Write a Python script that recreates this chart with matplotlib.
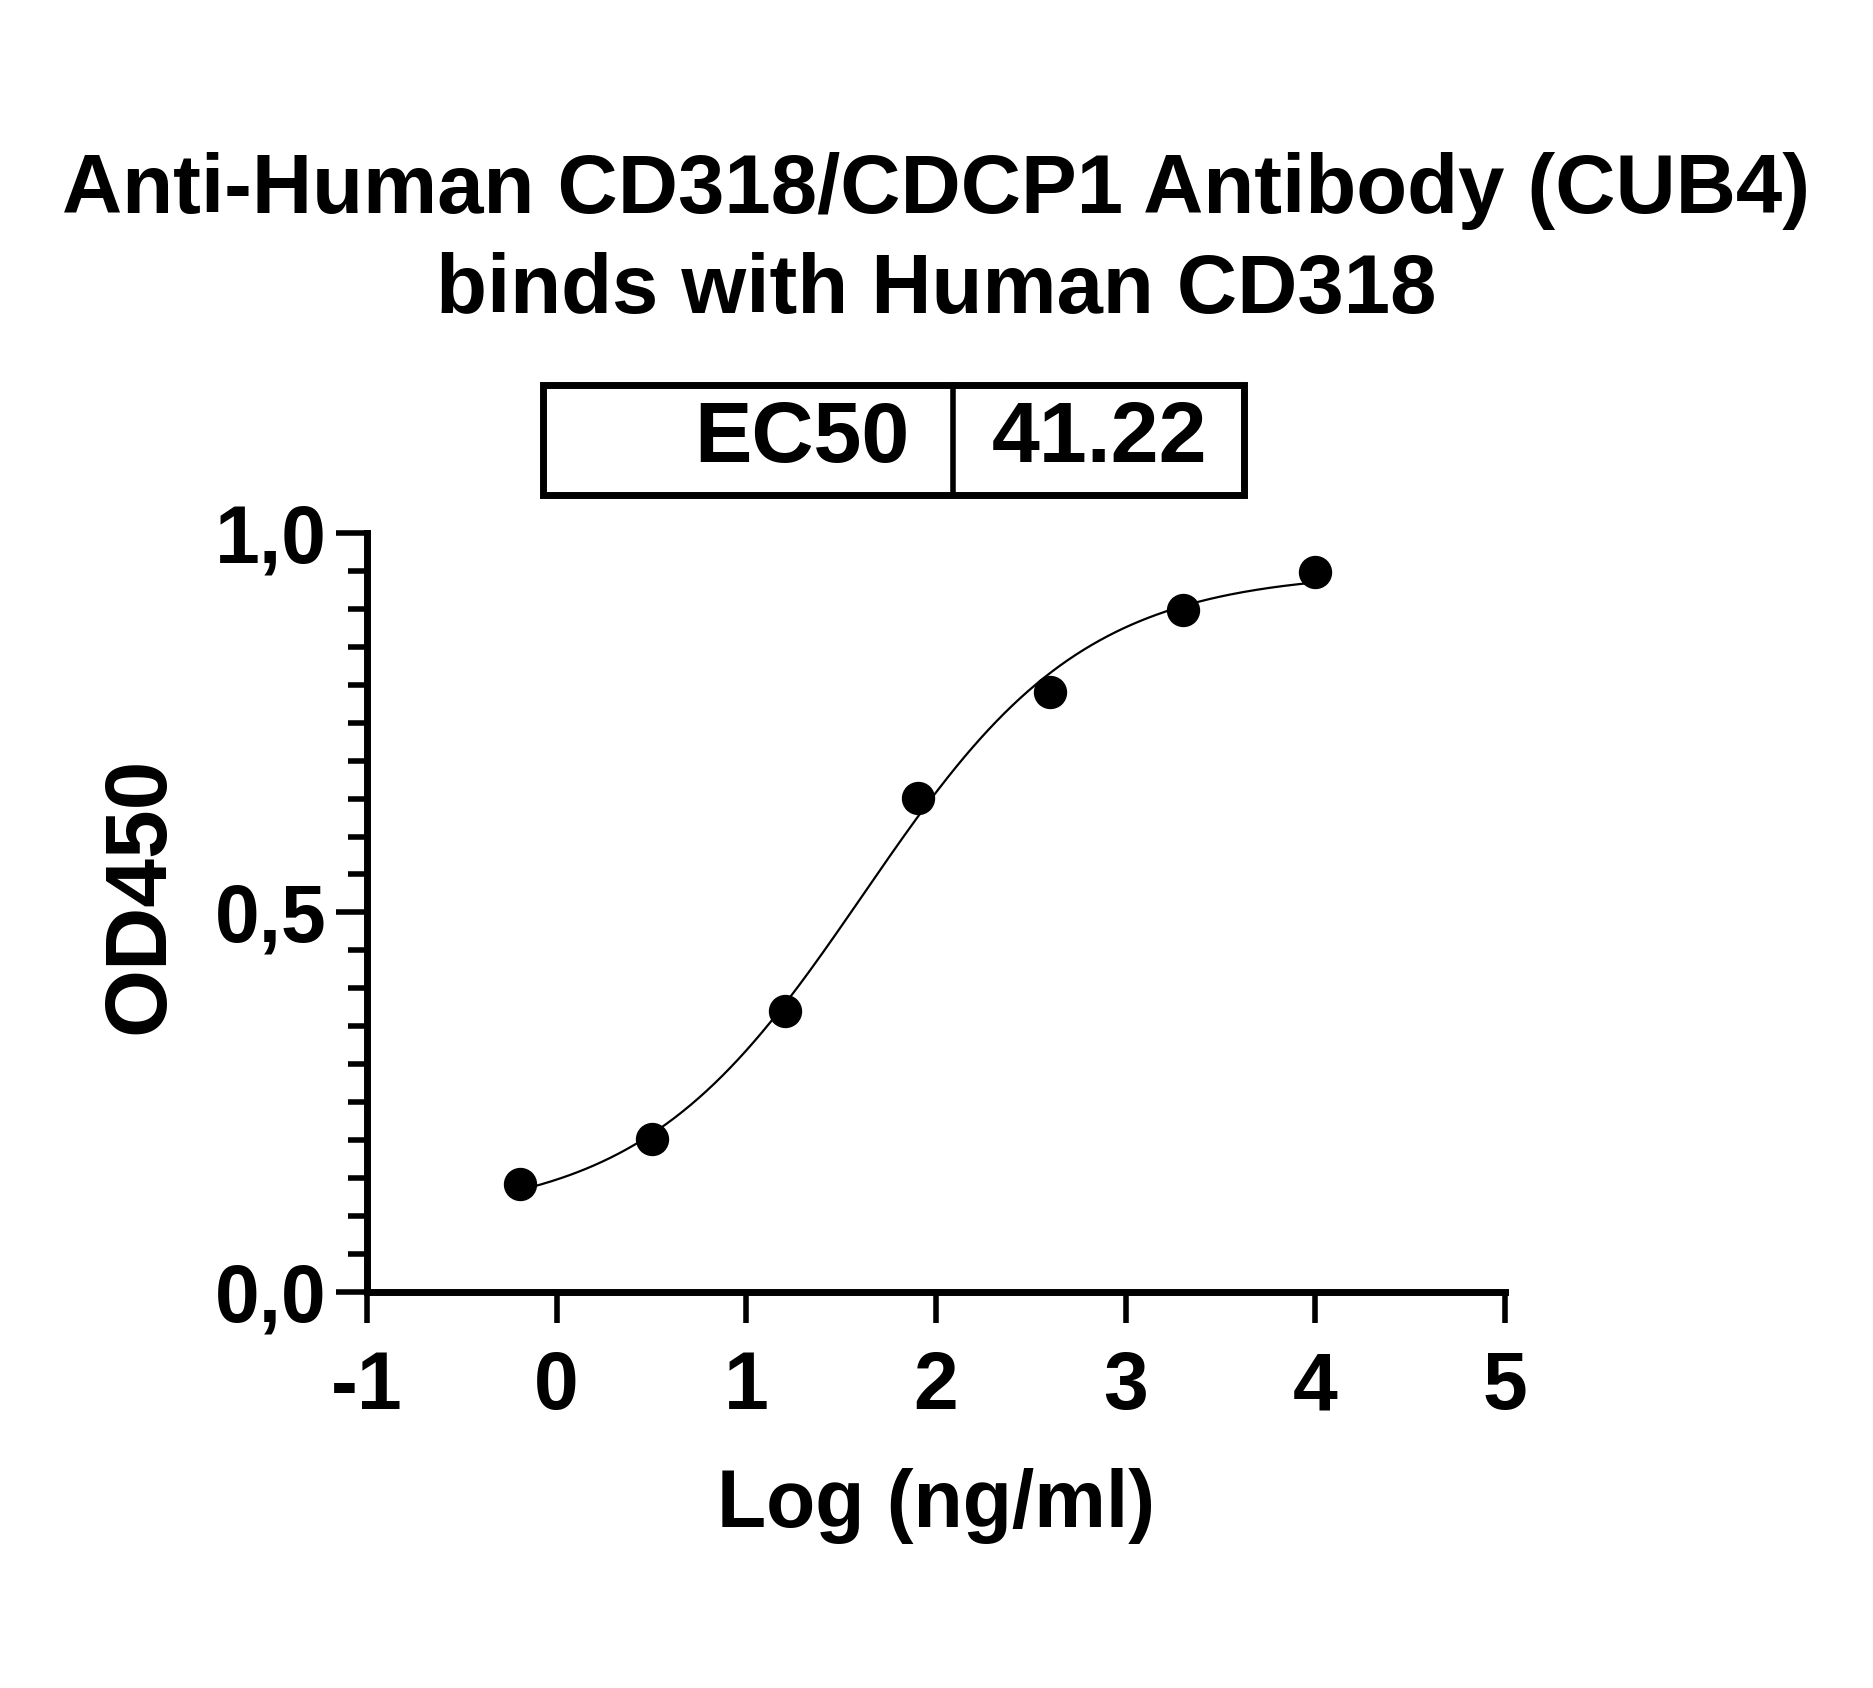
import matplotlib.pyplot as plt
import numpy as np
from matplotlib.patches import Rectangle
from matplotlib.ticker import MultipleLocator

plt.rcParams['font.family'] = ['Liberation Sans Narrow', 'Liberation Sans', 'DejaVu Sans']
plt.rcParams['font.weight'] = 'bold'
plt.rcParams['axes.unicode_minus'] = False

# data (log10 of ng/ml, OD450)
conc = [0.64, 3.2, 16, 80, 400, 2000, 10000]
od450 = [0.142, 0.201, 0.370, 0.651, 0.791, 0.899, 0.948]
ec50 = 41.22
xticks = [-1, 0, 1, 2, 3, 4, 5]
yticks = [0.0, 0.5, 1.0]
ytick_labels = ['0,0', '0,5', '1,0']

logx = np.log10(conc)
y = np.array(od450)

# 4PL fit with EC50 fixed: grid over hill slope, linear solve bottom/top
best = None
for hill in np.linspace(0.3, 2.0, 341):
    s = 1.0 / (1.0 + 10 ** ((np.log10(ec50) - logx) * hill))
    A = np.column_stack([1 - s, s])
    coef, res, _, _ = np.linalg.lstsq(A, y, rcond=None)
    err = np.sum((A @ coef - y) ** 2)
    if best is None or err < best[0]:
        best = (err, hill, coef)
_, hill, (bottom, top) = best
xc = np.linspace(logx.min(), logx.max(), 300)
yc = bottom + (top - bottom) / (1.0 + 10 ** ((np.log10(ec50) - xc) * hill))

fig = plt.figure(figsize=(18.73, 16.88), dpi=100)
ax = fig.add_axes([0.1959, 0.2346, 0.6076, 0.4497])

ax.plot(xc, yc, color='black', lw=1.6)
ax.plot(logx, y, 'o', color='black', markersize=23, clip_on=False)

ax.set_xlim(-1, 5)
ax.set_ylim(0, 1)
ax.set_xticks(xticks)
ax.set_yticks(yticks)
ax.set_yticklabels(ytick_labels)
ax.yaxis.set_minor_locator(MultipleLocator(0.05))

for sp in ['top', 'right']:
    ax.spines[sp].set_visible(False)
for sp in ['left', 'bottom']:
    ax.spines[sp].set_linewidth(5)

ax.tick_params(axis='both', which='major', length=22, width=4, labelsize=58)
ax.tick_params(axis='y', which='minor', length=14, width=4)
ax.tick_params(axis='y', which='major', pad=7)
ax.tick_params(axis='x', which='major', pad=20)
for lab in ax.get_yticklabels():
    lab.set_family(['Liberation Sans', 'DejaVu Sans'])

ax.set_xlabel('Log (ng/ml)', fontsize=58, fontweight='bold', labelpad=30)
ax.set_ylabel('OD450', fontsize=63, fontweight='bold',
              family=['Liberation Sans', 'DejaVu Sans'])
ax.yaxis.set_label_coords(-0.163, 0.523)

W, H = 1873, 1688
fig.text(0.5, 1 - 213 / H, 'Anti-Human CD318/CDCP1 Antibody (CUB4)',
         ha='center', va='baseline', fontsize=60, fontweight='bold',
         family=['Liberation Sans', 'DejaVu Sans'])
fig.text(0.5, 1 - 313 / H, 'binds with Human CD318',
         ha='center', va='baseline', fontsize=60, fontweight='bold',
         family=['Liberation Sans', 'DejaVu Sans'])

# EC50 box
x0, x1, xm = 543 / W, 1244 / W, 953 / W
yb, yt = 1 - 495 / H, 1 - 385 / H
fig.add_artist(Rectangle((x0, yb), x1 - x0, yt - yb, transform=fig.transFigure,
                         fill=False, lw=5, color='black'))
fig.add_artist(plt.Line2D([xm, xm], [yb, yt], transform=fig.transFigure,
                          lw=4, color='black'))
fig.text(909 / W, (yb + yt) / 2, 'EC50', ha='right', va='center',
         fontsize=62, fontweight='bold')
fig.text(992 / W, (yb + yt) / 2, '%.2f' % ec50, ha='left', va='center',
         fontsize=62, fontweight='bold')

fig.savefig('out.png', dpi=100)
